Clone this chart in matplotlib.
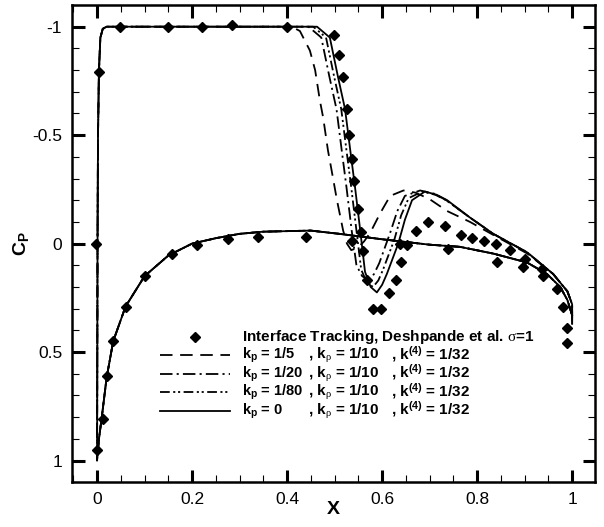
import matplotlib
matplotlib.use("Agg")
import matplotlib.pyplot as plt
from matplotlib.lines import Line2D
from matplotlib.ticker import MultipleLocator, FuncFormatter

plt.rcParams["font.family"] = ["Liberation Sans", "DejaVu Sans"]
plt.rcParams["mathtext.fontset"] = "custom"
plt.rcParams["mathtext.bf"] = "Liberation Sans:bold"
plt.rcParams["mathtext.rm"] = "Liberation Serif"
plt.rcParams["mathtext.default"] = "bf"
plt.rcParams["axes.unicode_minus"] = False
plt.rcParams["lines.scale_dashes"] = False

# --- experimental data (Interface Tracking, Deshpande et al.) ---
exp_x = [-0.002, 0.004, 0.048, 0.15, 0.22, 0.284, 0.40, 0.499, 0.51, 0.518, 0.526,
         0.531, 0.537, 0.541, 0.549, 0.556, 0.56, 0.568, 0.581, 0.598, 0.615, 0.629,
         0.64, 0.652, 0.672, 0.697, 0.733, 0.766, 0.79, 0.815, 0.84, 0.87, 0.90,
         0.937, 0.968, 0.981, 0.989,
         0.0, 0.012, 0.021, 0.034, 0.061, 0.101, 0.158, 0.211, 0.276, 0.339, 0.44,
         0.537, 0.638, 0.739, 0.842, 0.897, 0.939, 0.989]
exp_cp = [0.0, -0.79, -1.0, -1.0, -1.0, -1.01, -1.0, -0.96, -0.87, -0.77, -0.62,
          -0.5, -0.39, -0.29, -0.16, -0.055, 0.036, 0.167, 0.30, 0.30, 0.23, 0.167,
          0.086, 0.005, -0.06, -0.10, -0.08, -0.04, -0.025, -0.013, 0.0, 0.03, 0.07,
          0.116, 0.21, 0.29, 0.39,
          0.95, 0.81, 0.61, 0.45, 0.29, 0.148, 0.05, 0.005, -0.02, -0.03, -0.03,
          -0.014, 0.0, 0.025, 0.083, 0.11, 0.15, 0.46]

# --- shared parts of the computed curves ---
lower_x = [0.0, 0.004, 0.01, 0.02, 0.034, 0.06, 0.1, 0.15, 0.2, 0.25, 0.3, 0.35,
           0.45, 0.51, 0.6, 0.7, 0.764, 0.834, 0.905, 0.947, 0.975, 0.99, 1.0]
lower_cp = [1.0, 0.9, 0.8, 0.62, 0.45, 0.29, 0.15, 0.055, 0.0, -0.025, -0.045,
            -0.055, -0.06, -0.045, -0.02, 0.005, 0.015, 0.046, 0.087, 0.14, 0.2,
            0.26, 0.33]
le_x = [0.0005, 0.001, 0.002, 0.004, 0.007, 0.012, 0.02]
le_cp = [0.5, 0.0, -0.5, -0.8, -0.95, -0.99, -1.0]

# --- cavity closure region, one per k_p ---
kp5_x = [0.41, 0.427, 0.448, 0.459, 0.469, 0.476, 0.486, 0.496, 0.505, 0.518, 0.526,
         0.535, 0.548, 0.562, 0.575, 0.596, 0.617, 0.645, 0.67, 0.70, 0.737, 0.785,
         0.834, 0.905, 0.96, 0.99, 1.0, 1.0]
kp5_cp = [-1.0, -0.98, -0.89, -0.8, -0.66, -0.58, -0.43, -0.31, -0.2, -0.06, 0.0,
          0.03, 0.02, -0.01, -0.05, -0.14, -0.22, -0.245, -0.235, -0.205, -0.15,
          -0.1, -0.04, 0.045, 0.14, 0.22, 0.28, 0.37]
kp20_x = [0.445, 0.472, 0.489, 0.504, 0.515, 0.525, 0.536, 0.546, 0.558, 0.572, 0.583,
          0.594, 0.617, 0.632, 0.648, 0.68, 0.71, 0.735, 0.785, 0.834, 0.905, 0.96,
          0.99, 1.0, 1.0]
kp20_cp = [-1.0, -0.95, -0.77, -0.62, -0.43, -0.26, -0.06, 0.1, 0.15, 0.17, 0.14,
           0.09, -0.05, -0.15, -0.22, -0.245, -0.23, -0.2, -0.12, -0.045, 0.04, 0.14,
           0.22, 0.28, 0.37]
kp80_x = [0.455, 0.482, 0.499, 0.514, 0.525, 0.535, 0.546, 0.556, 0.568, 0.581, 0.592,
          0.602, 0.626, 0.64, 0.656, 0.685, 0.712, 0.735, 0.785, 0.834, 0.905, 0.96,
          0.99, 1.0, 1.0]
kp80_cp = [-1.0, -0.95, -0.77, -0.62, -0.43, -0.26, -0.06, 0.12, 0.18, 0.2, 0.17,
           0.12, -0.02, -0.13, -0.21, -0.24, -0.225, -0.2, -0.12, -0.045, 0.04, 0.14,
           0.22, 0.28, 0.37]
kp0_x = [0.463, 0.49, 0.507, 0.522, 0.533, 0.543, 0.554, 0.564, 0.576, 0.589, 0.60,
         0.61, 0.634, 0.648, 0.663, 0.69, 0.715, 0.737, 0.785, 0.834, 0.905, 0.96,
         0.99, 1.0, 1.0]
kp0_cp = [-1.0, -0.95, -0.77, -0.62, -0.43, -0.26, -0.06, 0.13, 0.2, 0.225, 0.19,
          0.14, 0.0, -0.11, -0.2, -0.24, -0.225, -0.2, -0.12, -0.045, 0.04, 0.14,
          0.22, 0.28, 0.37]

exp_label = r"Interface Tracking, Deshpande et al. $\mathrm{\sigma}$=1"
kp_labels = [r"k$_{p}$ = 1/5", r"k$_{p}$ = 1/20", r"k$_{p}$ = 1/80", r"k$_{p}$ = 0"]
krho_label = r", k$_{\mathrm{\rho}}$ = 1/10"
k4_label = r", k$^{(4)}$ = 1/32"

styles = [(0, (9, 5.5)), (0, (9, 3, 1.5, 3)), (0, (7, 2.5, 1.5, 2, 1.5, 2.5)), "-"]
closures = [(kp5_x, kp5_cp), (kp20_x, kp20_cp), (kp80_x, kp80_cp), (kp0_x, kp0_cp)]

W, H = 604, 527
fig = plt.figure(figsize=(W / 100, H / 100), dpi=100)
ax = fig.add_axes([0.119, 0.085, 0.866, 0.9055])

ax.plot(exp_x, exp_cp, linestyle="none", marker="D", markersize=5.6, color="black",
        zorder=5)
for (cx, ccp), ls in zip(closures, styles):
    ax.plot(lower_x[::-1] + le_x + cx, lower_cp[::-1] + le_cp + ccp,
            color="black", linestyle=ls, linewidth=1.3)

ax.set_xlim(-0.053, 1.048)
ax.set_ylim(1.1, -1.1)
ax.xaxis.set_major_locator(MultipleLocator(0.2))
ax.xaxis.set_minor_locator(MultipleLocator(0.05))
ax.yaxis.set_major_locator(MultipleLocator(0.5))
ax.yaxis.set_minor_locator(MultipleLocator(0.1))
fmt = FuncFormatter(lambda v, p: "%g" % round(v, 3))
ax.xaxis.set_major_formatter(fmt)
ax.yaxis.set_major_formatter(fmt)
ax.tick_params(which="both", direction="in", top=True, right=True, labelsize=12.5)
ax.tick_params(which="major", length=9, width=2.2, pad=7)
ax.tick_params(which="minor", length=5, width=0.8)
for sp in ax.spines.values():
    sp.set_linewidth(1.8)

ax.set_xlabel("X", fontsize=14, fontweight="bold", labelpad=-4)
ax.set_ylabel(r"C$_{P}$", fontsize=14, fontweight="bold", labelpad=1)

# hand-built legend (pixel rows, fixed text columns like the original)
row_base = [341, 359, 377.5, 396, 414.5]
fx = lambda px: px / W
fy = lambda py: 1 - py / H
lkw = dict(fontsize=11, fontweight="bold", va="baseline", ha="left")

fig.add_artist(Line2D([fx(195)], [fy(row_base[0] - 4)], marker="D", markersize=5.6,
                      color="black", linestyle="none", transform=fig.transFigure))
fig.text(fx(242), fy(row_base[0]), exp_label, **lkw)
for i, ls in enumerate(styles):
    yb = row_base[i + 1]
    fig.add_artist(Line2D([fx(160), fx(230)], [fy(yb - 4)] * 2, color="black",
                          linestyle=ls, linewidth=1.3, transform=fig.transFigure))
    fig.text(fx(242), fy(yb), kp_labels[i], fontsize=10.5, fontweight="bold",
             va="baseline", ha="left")
    fig.text(fx(308), fy(yb), krho_label, **lkw)
    fig.text(fx(391), fy(yb), k4_label, **lkw)

fig.savefig("out.png", dpi=100)
